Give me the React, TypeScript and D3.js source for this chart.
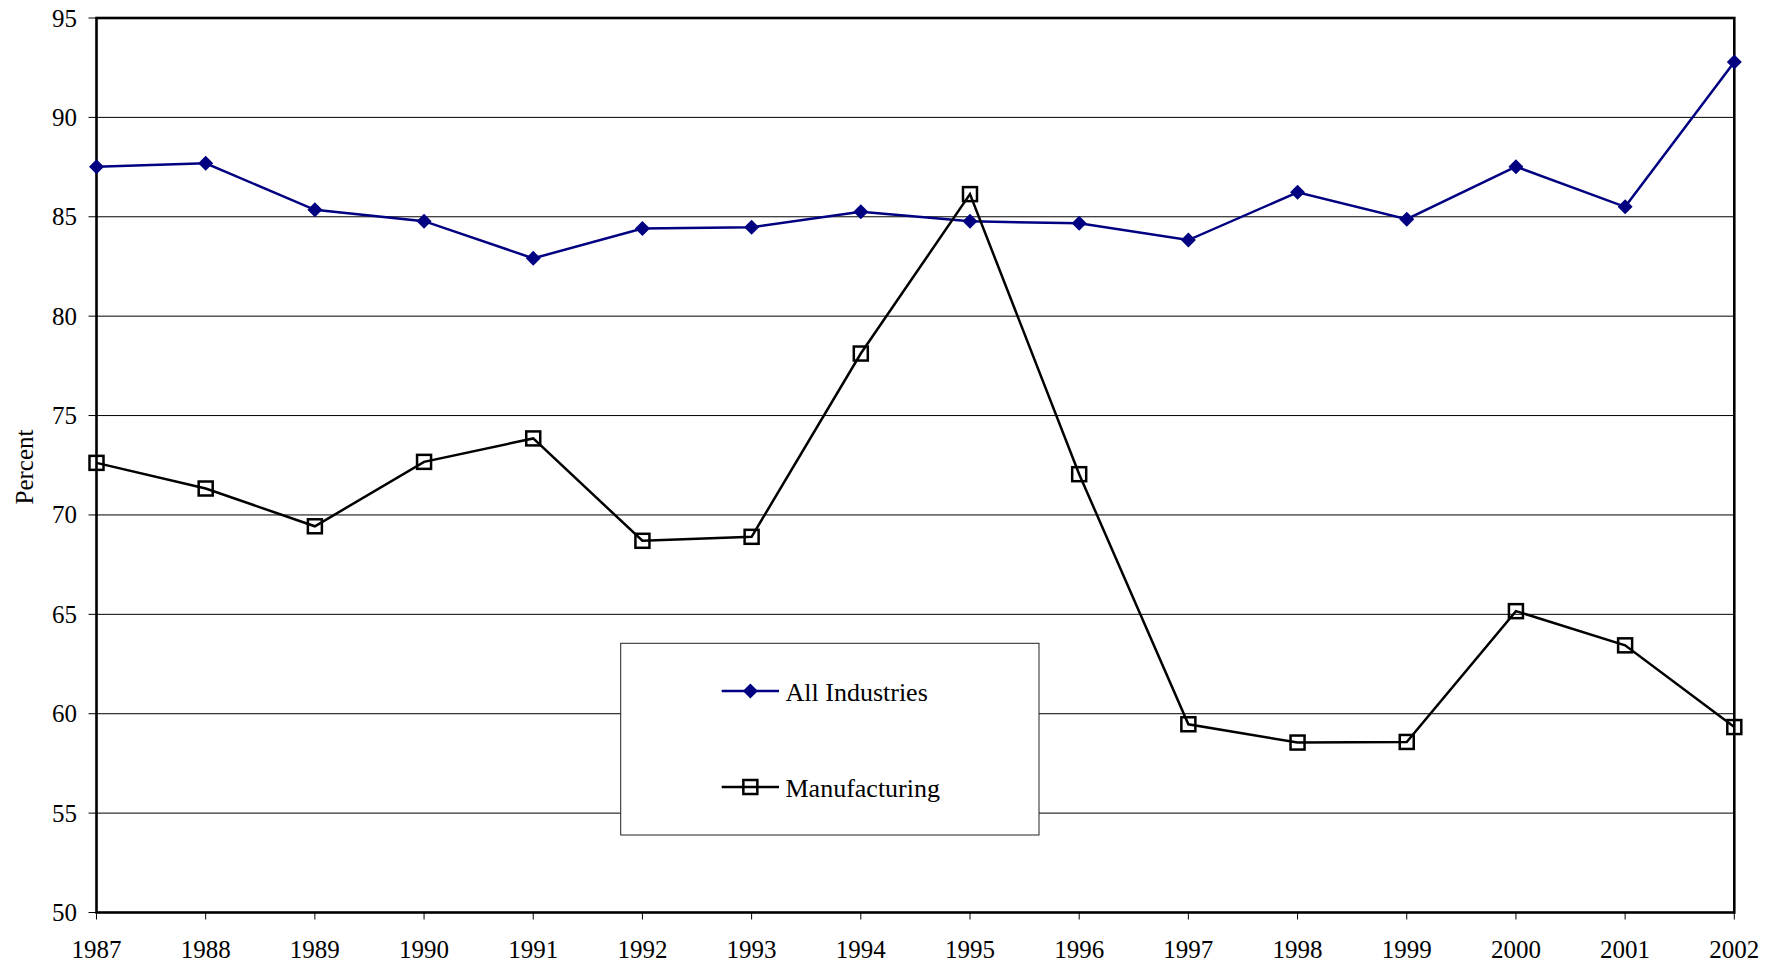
import React from "react";
import * as d3 from "d3";

const years: number[] = [1987, 1988, 1989, 1990, 1991, 1992, 1993, 1994, 1995, 1996, 1997, 1998, 1999, 2000, 2001, 2002];
const allIndustries: number[] = [87.52, 87.69, 85.35, 84.78, 82.91, 84.41, 84.47, 85.25, 84.77, 84.67, 83.83, 86.23, 84.88, 87.52, 85.5, 92.79];
const manufacturing: number[] = [72.62, 71.33, 69.43, 72.67, 73.85, 68.7, 68.9, 78.12, 86.14, 72.05, 59.47, 58.55, 58.58, 65.16, 63.44, 59.33];
const yTicks: number[] = [50, 55, 60, 65, 70, 75, 80, 85, 90, 95];

const W = 1781;
const H = 964;
const left = 96.5;
const right = 1734.3;
const top = 18;
const bottom = 912.5;
const FONT = "'Liberation Serif', 'Times New Roman', serif";
const NAVY = "#000080";

export default function App() {
  const x = d3.scaleLinear().domain([years[0], years[years.length - 1]]).range([left, right]);
  const y = d3.scaleLinear().domain([50, 95]).range([bottom, top]);

  const line = d3
    .line<number>()
    .x((_, i) => x(years[i]))
    .y((v) => y(v));

  const diamond = (cx: number, cy: number, r: number) =>
    `M${cx},${cy - r}L${cx + r},${cy}L${cx},${cy + r}L${cx - r},${cy}Z`;

  const sq = 14;
  const dr = 7.5;

  const legendX = 620.7;
  const legendY = 643.3;
  const legendW = 418.3;
  const legendH = 191.7;
  const lx1 = 721.7;
  const lx2 = 779;
  const lmx = (lx1 + lx2) / 2;
  const row1 = 691;
  const row2 = 787;

  return (
    <svg
      width={W}
      height={H}
      style={{ position: "absolute", left: 0, top: 0, background: "#fff" }}
      fontFamily={FONT}
    >
      <rect x={0} y={0} width={W} height={H} fill="#fff" />

      {/* horizontal gridlines */}
      {yTicks
        .filter((t) => t !== 50 && t !== 95)
        .map((t) => (
          <line key={`g${t}`} x1={left} x2={right} y1={y(t)} y2={y(t)} stroke="#000" strokeWidth={1} />
        ))}

      {/* y ticks and labels */}
      {yTicks.map((t) => (
        <g key={`y${t}`}>
          <line x1={left - 8} x2={left} y1={y(t)} y2={y(t)} stroke="#000" strokeWidth={1} />
          <text x={77} y={y(t) + 8.5} textAnchor="end" fontSize={25} fill="#000">
            {t}
          </text>
        </g>
      ))}

      {/* x ticks and labels */}
      {years.map((yr) => (
        <g key={`x${yr}`}>
          <line x1={x(yr)} x2={x(yr)} y1={bottom} y2={bottom + 7} stroke="#000" strokeWidth={1} />
          <text x={x(yr)} y={958} textAnchor="middle" fontSize={25} fill="#000">
            {yr}
          </text>
        </g>
      ))}

      {/* plot frame */}
      <rect x={left} y={top} width={right - left} height={bottom - top} fill="none" stroke="#000" strokeWidth={2.6} />

      <text
        transform={`translate(33,467) rotate(-90)`}
        textAnchor="middle"
        fontSize={25}
        fill="#000"
      >
        Percent
      </text>

      {/* All Industries */}
      <path d={line(allIndustries) || ""} fill="none" stroke={NAVY} strokeWidth={2.5} />
      {allIndustries.map((v, i) => (
        <path key={`d${i}`} d={diamond(x(years[i]), y(v), dr)} fill={NAVY} />
      ))}

      {/* Manufacturing */}
      <path d={line(manufacturing) || ""} fill="none" stroke="#000" strokeWidth={2.5} />
      {manufacturing.map((v, i) => (
        <rect
          key={`s${i}`}
          x={x(years[i]) - sq / 2}
          y={y(v) - sq / 2}
          width={sq}
          height={sq}
          fill="none"
          stroke="#000"
          strokeWidth={2.5}
        />
      ))}

      {/* legend */}
      <rect x={legendX} y={legendY} width={legendW} height={legendH} fill="#fff" stroke="#222" strokeWidth={1} />
      <line x1={lx1} x2={lx2} y1={row1} y2={row1} stroke={NAVY} strokeWidth={2.5} />
      <path d={diamond(lmx, row1, dr)} fill={NAVY} />
      <text x={785.5} y={row1 + 10} fontSize={26} fill="#000">
        All Industries
      </text>
      <line x1={lx1} x2={lx2} y1={row2} y2={row2} stroke="#000" strokeWidth={2.5} />
      <rect x={lmx - sq / 2} y={row2 - sq / 2} width={sq} height={sq} fill="none" stroke="#000" strokeWidth={2.5} />
      <text x={785.5} y={row2 + 10} fontSize={26} fill="#000">
        Manufacturing
      </text>
    </svg>
  );
}
